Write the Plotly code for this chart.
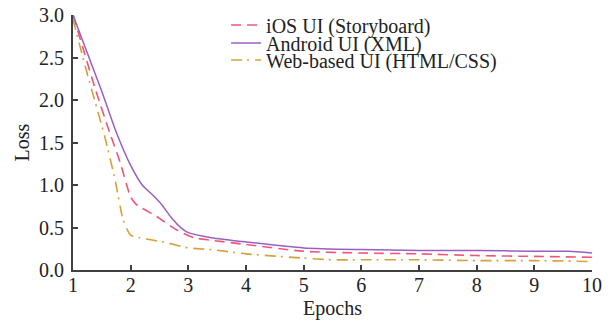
import plotly.graph_objects as go

epochs_ios = [1, 1.2, 1.4, 1.64, 1.82, 2.0, 2.1, 2.45, 2.8, 3.1, 3.4, 4, 5, 6, 7, 8, 9, 10]
loss_ios = [3.0, 2.55, 2.1, 1.61, 1.26, 0.86, 0.77, 0.63, 0.47, 0.38, 0.35, 0.30, 0.22, 0.20, 0.19, 0.17, 0.16, 0.15]

epochs_android = [1, 1.25, 1.5, 1.75, 2.0, 2.2, 2.4, 2.55, 2.7, 2.9, 3.0, 3.4, 4, 5, 6, 7, 8, 9, 9.6, 10]
loss_android = [3.0, 2.55, 2.1, 1.62, 1.23, 1.0, 0.87, 0.76, 0.62, 0.48, 0.44, 0.38, 0.33, 0.26, 0.24, 0.23, 0.23, 0.22, 0.22, 0.20]

epochs_web = [1, 1.25, 1.55, 1.73, 1.87, 2.0, 2.16, 2.63, 3.0, 3.4, 4, 5, 5.5, 6, 7, 8, 9, 10]
loss_web = [2.95, 2.3, 1.57, 1.06, 0.59, 0.41, 0.38, 0.32, 0.26, 0.24, 0.19, 0.14, 0.12, 0.12, 0.12, 0.11, 0.11, 0.10]

series_names = ["iOS UI (Storyboard)", "Android UI (XML)", "Web-based UI (HTML/CSS)"]

FAM = "Liberation Serif, Times New Roman, serif"
TXT = "#222222"
AX = "#404040"

fig = go.Figure()
fig.add_trace(go.Scatter(x=epochs_ios, y=loss_ios, mode="lines", name=series_names[0], legend="legend",
                         line=dict(color="#f0557e", width=1.6, dash="10px,6px", shape="spline", smoothing=0.6)))
fig.add_trace(go.Scatter(x=epochs_android, y=loss_android, mode="lines", name=series_names[1], legend="legend2",
                         line=dict(color="#9b5fc0", width=1.5, shape="spline", smoothing=0.6)))
fig.add_trace(go.Scatter(x=epochs_web, y=loss_web, mode="lines", name=series_names[2], legend="legend3",
                         line=dict(color="#d4a23a", width=1.6, dash="11px,5px,2px,6px", shape="spline", smoothing=0.6)))

leg_common = dict(x=0.295, xanchor="left", yanchor="middle", yref="container", bgcolor="rgba(0,0,0,0)",
                  font=dict(family=FAM, size=20, color=TXT), itemwidth=30, borderwidth=0)

# page body has an 8px margin: figure is offset by 8px inside the 613x320 window
fig.update_layout(
    width=605, height=312,
    margin=dict(l=65, r=21, t=7, b=50, autoexpand=False),
    plot_bgcolor="white", paper_bgcolor="white",
    font=dict(family=FAM, size=20, color=TXT),
    showlegend=True,
    legend=dict(y=0.9455, **leg_common),
    legend2=dict(y=0.8878, **leg_common),
    legend3=dict(y=0.8333, **leg_common),
    xaxis=dict(range=[1, 10], tickvals=list(range(1, 11)), showgrid=False, zeroline=False,
               showline=True, linecolor=AX, linewidth=2, ticks="inside", ticklen=5, tickwidth=1.5,
               tickcolor=AX, automargin=False, ticklabelstandoff=-4, ticklabeloverflow="allow",
               tickfont=dict(family=FAM, size=20, color=TXT),
               title=dict(text="Epochs", standoff=8, font=dict(family=FAM, size=20, color=TXT))),
    yaxis=dict(range=[0, 3.0], tickvals=[0, 0.5, 1.0, 1.5, 2.0, 2.5, 3.0], tickformat=".1f",
               showgrid=False, zeroline=False, showline=True, linecolor=AX, linewidth=2,
               ticks="inside", ticklen=5, tickwidth=1.5, tickcolor=AX, automargin=False,
               ticklabelstandoff=3, ticklabeloverflow="allow",
               tickfont=dict(family=FAM, size=20, color=TXT),
               title=dict(text="Loss", standoff=4, font=dict(family=FAM, size=20, color=TXT))),
)
fig.write_html("out.html")
